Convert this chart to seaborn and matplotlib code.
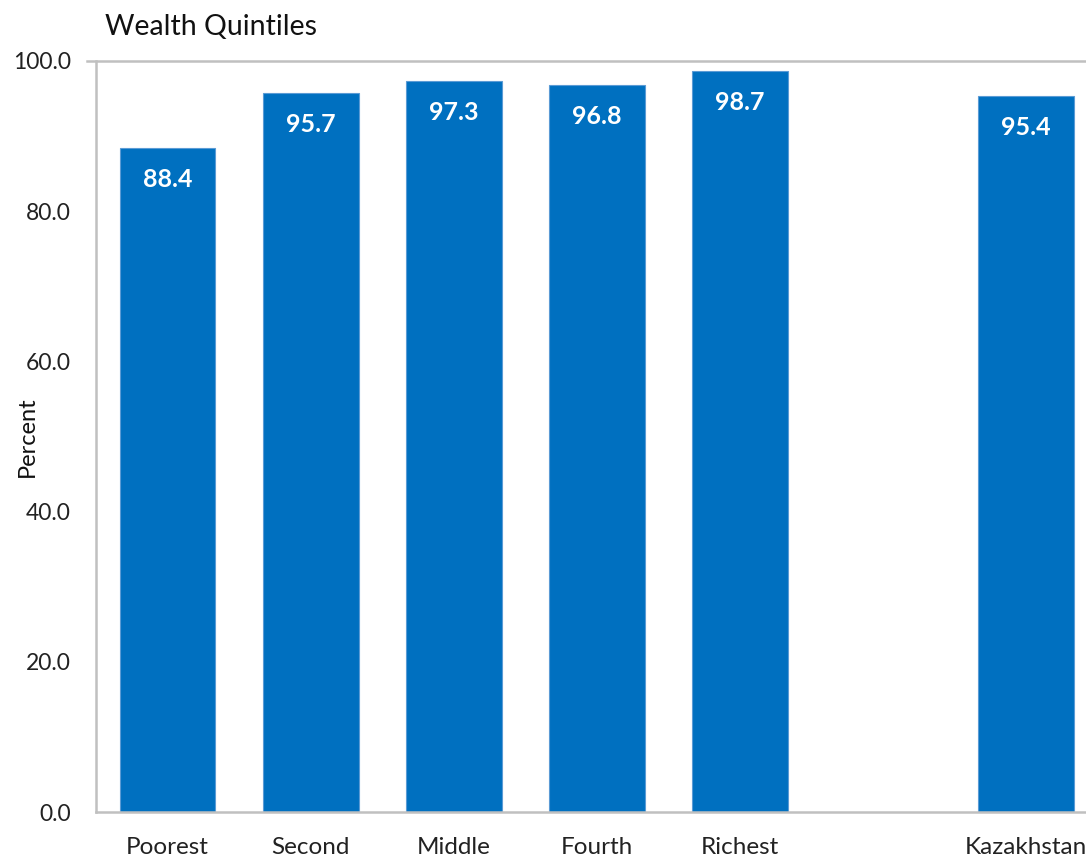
import matplotlib
matplotlib.use("Agg")
import matplotlib.pyplot as plt
import seaborn as sns
import pandas as pd

# data
categories = ["Poorest", "Second", "Middle", "Fourth", "Richest", "Kazakhstan"]
values = [88.4, 95.7, 97.3, 96.8, 98.7, 95.4]
# slot order, with an empty gap before the national total
order = ["Poorest", "Second", "Middle", "Fourth", "Richest", " ", "Kazakhstan"]
yticks = [0, 20, 40, 60, 80, 100]

sns.set_style("white")
plt.rcParams["font.family"] = ["Lato", "DejaVu Sans"]

df = pd.DataFrame({"group": categories, "pct": values})

fig = plt.figure(figsize=(10.86, 8.59), dpi=100)
ax = fig.add_axes([0.0884, 0.0547, 1.0105 - 0.0884, 0.929 - 0.0547])

sns.barplot(data=df, x="group", y="pct", order=order, color="#0070C0",
            saturation=1, width=0.67, edgecolor="#5B9BD5", linewidth=0.8, ax=ax)

# value labels inside the top of each bar
for cont in ax.containers:
    ax.bar_label(cont, fmt="%.1f", padding=-31, color="white",
                 fontsize=18, fontweight="bold")

ax.set_xlim(-0.5, len(order) - 0.5)
ax.set_ylim(0, 100)
ax.set_yticks(yticks)
ax.set_yticklabels([f"{v:.1f}" for v in yticks], fontsize=16.5, color="#222222")
ax.set_xticks(range(len(order)))
ax.set_xticklabels(order, fontsize=17.5, color="#222222")
ax.set_xticks([i - 0.5 for i in range(len(order) + 1)], minor=True)
ax.tick_params(axis="x", which="major", length=0, pad=18)
ax.tick_params(axis="x", which="minor", length=7, width=1.8, color="#C0C0C0")
ax.tick_params(axis="y", length=8, width=1.8, color="#C0C0C0", pad=10)

ax.set_xlabel("")
ax.set_ylabel("Percent", fontsize=17, color="#111111")
ax.yaxis.set_label_coords(-0.058, 0.5, transform=ax.transAxes)

for side in ["right"]:
    ax.spines[side].set_visible(False)
for side in ["left", "bottom", "top"]:
    ax.spines[side].set_color("#C0C0C0")
    ax.spines[side].set_linewidth(1.8)
ax.spines["top"].set_bounds(-0.56, len(order))

fig.text(0.097, 0.959, "Wealth Quintiles", fontsize=20.5, color="#111111")

fig.savefig("out.png", dpi=100)
